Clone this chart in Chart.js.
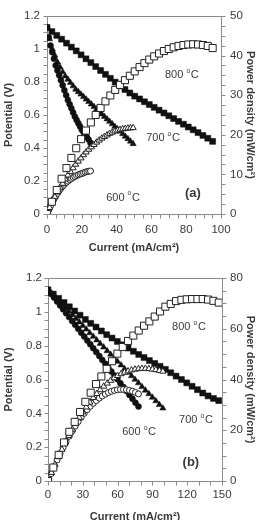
<!DOCTYPE html>
<html>
<head>
<meta charset="utf-8">
<script src="https://cdn.jsdelivr.net/npm/chart.js@4"></script>
<style>
html, body { margin: 0; padding: 0; background: #fff; overflow: hidden; }
.panel { position: absolute; left: 0; width: 261px; height: 260px; overflow: hidden; }
</style>
</head>
<body>
<div class="panel" style="top:0"><canvas id="chartA" width="261" height="260"></canvas></div>
<div class="panel" style="top:260px"><canvas id="chartB" width="261" height="272"></canvas></div>
<script>
// panel (a)
const currentA600 = [0, 1, 2, 3, 4, 5, 6, 7, 8, 9, 10, 11, 12, 13, 14, 15, 16, 17, 18, 19, 20, 21, 22, 23, 24, 25];
const voltageA600 = [1.13, 1.07, 1.02, 0.98, 0.94, 0.90, 0.87, 0.84, 0.81, 0.78, 0.75, 0.72, 0.69, 0.665, 0.64, 0.615, 0.59, 0.57, 0.55, 0.53, 0.51, 0.495, 0.48, 0.465, 0.45, 0.43];
const powerA600 = [0, 1.07, 2.04, 2.94, 3.76, 4.50, 5.22, 5.88, 6.48, 7.02, 7.50, 7.92, 8.28, 8.65, 8.96, 9.23, 9.44, 9.69, 9.90, 10.07, 10.20, 10.40, 10.56, 10.70, 10.80, 10.85];

const currentA700 = [0, 1.5, 3, 4.5, 6, 7.5, 9, 10.5, 12, 13.5, 15, 16.5, 18, 19.5, 21, 22.5, 24, 25.5, 27, 28.5, 30, 31.5, 33, 34.5, 36, 37.5, 39, 40.5, 42, 43.5, 45, 46.5, 48, 49.5];
const voltageA700 = [1.13, 1.06, 1.00, 0.96, 0.92, 0.89, 0.86, 0.835, 0.815, 0.795, 0.775, 0.755, 0.74, 0.725, 0.71, 0.695, 0.68, 0.665, 0.65, 0.635, 0.62, 0.605, 0.59, 0.575, 0.56, 0.545, 0.53, 0.515, 0.50, 0.485, 0.47, 0.455, 0.44, 0.425];
const powerA700 = [0, 1.6, 3.0, 4.3, 5.5, 6.7, 7.7, 8.8, 9.8, 10.7, 11.6, 12.5, 13.3, 14.1, 14.9, 15.6, 16.3, 16.9, 17.5, 18.1, 18.6, 19.1, 19.5, 19.9, 20.3, 20.6, 20.9, 21.1, 21.3, 21.45, 21.55, 21.65, 21.7, 21.75];

const currentA800 = [0, 2.8, 5.6, 8.4, 11.2, 14, 16.8, 19.6, 22.4, 25.2, 28, 30.8, 33.6, 36.4, 39.2, 42, 44.8, 47.6, 50.4, 53.2, 56, 58.8, 61.6, 64.4, 67.2, 70, 72.8, 75.6, 78.4, 81.2, 84, 86.8, 89.6, 92.4, 95.2];
const voltageA800 = [1.13, 1.105, 1.082, 1.059, 1.035, 1.011, 0.988, 0.964, 0.94, 0.917, 0.893, 0.869, 0.846, 0.822, 0.799, 0.776, 0.754, 0.733, 0.714, 0.697, 0.68, 0.663, 0.646, 0.629, 0.612, 0.595, 0.578, 0.561, 0.544, 0.527, 0.51, 0.493, 0.476, 0.459, 0.44];
const powerA800 = [0, 3.09, 6.06, 8.9, 11.59, 14.15, 16.6, 18.89, 21.06, 23.11, 25.0, 26.77, 28.43, 29.92, 31.32, 32.59, 33.78, 34.89, 35.99, 37.08, 38.08, 38.98, 39.79, 40.51, 41.13, 41.65, 42.08, 42.41, 42.65, 42.79, 42.84, 42.79, 42.65, 42.41, 41.89];

// panel (b)
const currentB600 = [0, 2.6, 5.2, 7.8, 10.4, 13, 15.6, 18.2, 20.8, 23.4, 26, 28.6, 31.2, 33.8, 36.4, 39, 41.6, 44.2, 46.8, 49.4, 52, 54.6, 57.2, 59.8, 62.4, 65, 67.6, 70.2, 72.8, 75.4, 78];
const voltageB600 = [1.13, 1.107, 1.084, 1.061, 1.038, 1.015, 0.992, 0.969, 0.946, 0.923, 0.9, 0.877, 0.854, 0.831, 0.808, 0.785, 0.762, 0.739, 0.716, 0.693, 0.67, 0.647, 0.624, 0.601, 0.578, 0.555, 0.532, 0.509, 0.486, 0.463, 0.44];
const powerB600 = [0, 2.88, 5.64, 8.28, 10.8, 13.2, 15.48, 17.64, 19.68, 21.6, 23.4, 25.08, 26.64, 28.09, 29.41, 30.62, 31.7, 32.66, 33.51, 34.23, 34.84, 35.33, 35.69, 35.94, 36.07, 36.08, 35.96, 35.73, 35.38, 34.91, 34.32];

const currentB700 = [0, 3, 6, 9, 12, 15, 18, 21, 24, 27, 30, 33, 36, 39, 42, 45, 48, 51, 54, 57, 60, 63, 66, 69, 72, 75, 78, 81, 84, 87, 90, 93, 96, 99];
const voltageB700 = [1.13, 1.109, 1.088, 1.066, 1.045, 1.024, 1.003, 0.982, 0.96, 0.939, 0.918, 0.897, 0.875, 0.854, 0.833, 0.812, 0.791, 0.769, 0.748, 0.727, 0.706, 0.685, 0.663, 0.642, 0.621, 0.6, 0.579, 0.557, 0.536, 0.515, 0.494, 0.473, 0.451, 0.43];
const powerB700 = [0, 3.3, 6.5, 9.5, 12.4, 15.2, 17.8, 20.3, 22.7, 25.0, 27.1, 29.1, 31.0, 32.8, 34.4, 35.9, 37.3, 38.5, 39.6, 40.6, 41.5, 42.2, 42.8, 43.3, 43.7, 44.0, 44.2, 44.3, 44.3, 44.2, 44.0, 43.8, 43.5, 43.2];

const currentB800 = [0, 4.6, 9.2, 13.8, 18.4, 23, 27.6, 32.2, 36.8, 41.4, 46, 50.6, 55.2, 59.8, 64.4, 69, 73.6, 78.2, 82.8, 87.4, 92, 96.6, 101.2, 105.8, 110.4, 115, 119.6, 124.2, 128.8, 133.4, 138, 142.6, 147.2];
const voltageB800 = [1.13, 1.105, 1.08, 1.055, 1.03, 1.005, 0.98, 0.955, 0.932, 0.91, 0.887, 0.865, 0.845, 0.825, 0.805, 0.786, 0.767, 0.748, 0.73, 0.712, 0.695, 0.678, 0.66, 0.64, 0.62, 0.6, 0.58, 0.56, 0.54, 0.52, 0.503, 0.488, 0.475];
const powerB800 = [0, 5.3, 10.3, 15.2, 19.4, 23.3, 27.2, 31.2, 34.8, 38.2, 41.2, 44.2, 47.2, 50.2, 52.8, 55.2, 57.3, 59.3, 61.2, 62.9, 64.8, 66.8, 68.7, 69.8, 70.9, 71.4, 71.6, 71.7, 71.7, 71.7, 71.5, 71.0, 70.3];

const FAMILY = "'Liberation Sans', Arial, sans-serif";
const INK = '#3a3a3a';

function pts(xs, ys) {
  return xs.map((x, i) => ({x: x, y: ys[i]}));
}

function series(xs, ys, axis, style, filled, radius) {
  return {
    data: pts(xs, ys),
    yAxisID: axis,
    showLine: false,
    pointStyle: style,
    pointRadius: radius,
    pointBackgroundColor: filled ? '#111' : '#fff',
    pointBorderColor: filled ? '#111' : '#222',
    pointBorderWidth: filled ? 0.5 : 1
  };
}

// plain numbers: 1 instead of 1.0
function plain(v) {
  return String(Math.round(v * 100) / 100);
}

function tempLabel(ctx, x, y, num) {
  ctx.fillStyle = INK;
  ctx.textAlign = 'left';
  ctx.textBaseline = 'middle';
  ctx.font = '11px ' + FAMILY;
  const t = num + ' ';
  ctx.fillText(t, x, y);
  let w = ctx.measureText(t).width;
  ctx.font = '7px ' + FAMILY;
  ctx.fillText('o', x + w, y - 4);
  w += ctx.measureText('o').width + 0.5;
  ctx.font = '11px ' + FAMILY;
  ctx.fillText('C', x + w, y);
}

const decorPlugin = {
  id: 'panelDecor',
  beforeDatasetsDraw(chart, args, o) {
    const {ctx, chartArea: a, scales} = chart;
    const L = Math.round(a.left) + 0.5, R = Math.round(a.right) + 0.5;
    const T = Math.round(a.top) + 0.5, B = Math.round(a.bottom) + 0.5;
    ctx.save();
    ctx.strokeStyle = '#8c8c8c';
    ctx.lineWidth = 1;
    ctx.strokeRect(L, T, R - L, B - T);
    ctx.beginPath();
    for (let v = 0; v <= 1.2 + 1e-9; v += 0.05) {
      const y = Math.round(scales.y.getPixelForValue(v)) + 0.5;
      ctx.moveTo(L - 4, y); ctx.lineTo(L, y);
    }
    for (let v = 0; v <= o.pMax + 1e-9; v += o.pMinor) {
      const y = Math.round(scales.y1.getPixelForValue(v)) + 0.5;
      ctx.moveTo(R, y); ctx.lineTo(R + 4, y);
    }
    for (let v = 0; v <= o.xMax + 1e-9; v += o.xMinor) {
      const x = Math.round(scales.x.getPixelForValue(v)) + 0.5;
      ctx.moveTo(x, B); ctx.lineTo(x, B + 4);
    }
    ctx.stroke();
    ctx.restore();
  },
  afterDatasetsDraw(chart, args, o) {
    const {ctx, scales} = chart;
    ctx.save();
    o.temps.forEach(t => {
      tempLabel(ctx, scales.x.getPixelForValue(t.x), scales.y.getPixelForValue(t.y), t.text);
    });
    ctx.fillStyle = INK;
    ctx.font = 'bold 13px ' + FAMILY;
    ctx.textAlign = 'left';
    ctx.textBaseline = 'middle';
    ctx.fillText(o.tag.text, scales.x.getPixelForValue(o.tag.x), scales.y.getPixelForValue(o.tag.y));
    ctx.restore();
  }
};

function makeChart(id, p) {
  const tickFont = {family: FAMILY, size: 11.5};
  const titleFont = {family: FAMILY, size: 11, weight: 'bold'};
  return new Chart(document.getElementById(id), {
    type: 'scatter',
    data: {datasets: p.datasets},
    options: {
      responsive: false,
      animation: false,
      events: [],
      layout: {padding: {top: p.top, left: 0, right: 0, bottom: 0}},
      plugins: {
        legend: {display: false},
        tooltip: {enabled: false},
        panelDecor: p.decor
      },
      scales: {
        x: {
          type: 'linear', min: 0, max: p.xMax,
          grid: {display: false, drawTicks: false}, border: {display: false},
          ticks: {stepSize: p.xStep, padding: p.xPad, color: INK, font: tickFont, maxRotation: 0, callback: plain},
          title: {display: true, text: 'Current (mA/cm²)', color: INK, font: titleFont, padding: {top: 0, bottom: p.xTitlePad}},
          afterFit(s) { s.height = p.xHeight; }
        },
        y: {
          type: 'linear', position: 'left', min: 0, max: 1.2,
          grid: {display: false, drawTicks: false}, border: {display: false},
          ticks: {stepSize: 0.2, padding: p.yPad, color: INK, font: tickFont, callback: plain},
          title: {display: true, text: 'Potential (V)', color: INK, font: titleFont, padding: {top: 2.4, bottom: 0}},
          afterFit(s) { s.width = p.left; }
        },
        y1: {
          type: 'linear', position: 'right', min: 0, max: p.pMax,
          grid: {display: false, drawTicks: false}, border: {display: false},
          ticks: {stepSize: p.pStep, padding: p.y1Pad, color: INK, font: tickFont, callback: plain},
          title: {display: true, text: 'Power density (mW/cm²)', color: INK, font: titleFont, padding: {top: 4.4, bottom: 0}},
          afterFit(s) { s.width = p.right; }
        }
      }
    },
    plugins: [decorPlugin]
  });
}

makeChart('chartA', {
  top: 13, left: 47, right: 40, xHeight: 46,
  xMax: 100, xStep: 20, pMax: 50, pStep: 10,
  xPad: 9, yPad: 7, y1Pad: 9, xTitlePad: 5.4,
  decor: {
    pMax: 50, pMinor: 2.5, xMax: 100, xMinor: 5,
    temps: [{x: 67.8, y: 0.84, text: '800'}, {x: 57, y: 0.46, text: '700'}, {x: 34, y: 0.10, text: '600'}],
    tag: {x: 79.3, y: 0.125, text: '(a)'}
  },
  datasets: [
    series(currentA800, powerA800, 'y1', 'rect', false, 5),
    series(currentA700, powerA700, 'y1', 'triangle', false, 3.6),
    series(currentA600, powerA600, 'y1', 'circle', false, 3),
    series(currentA800, voltageA800, 'y', 'rect', true, 4.2),
    series(currentA700, voltageA700, 'y', 'triangle', true, 3.6),
    series(currentA600, voltageA600, 'y', 'circle', true, 3)
  ]
});

makeChart('chartB', {
  top: 18, left: 48, right: 39, xHeight: 51,
  xMax: 150, xStep: 30, pMax: 80, pStep: 20,
  xPad: 7, yPad: 6, y1Pad: 8, xTitlePad: 8.4,
  decor: {
    pMax: 80, pMinor: 5, xMax: 150, xMinor: 10,
    temps: [{x: 107, y: 0.91, text: '800'}, {x: 113, y: 0.36, text: '700'}, {x: 64, y: 0.29, text: '600'}],
    tag: {x: 116, y: 0.11, text: '(b)'}
  },
  datasets: [
    series(currentB800, powerB800, 'y1', 'rect', false, 5),
    series(currentB700, powerB700, 'y1', 'triangle', false, 3.6),
    series(currentB600, powerB600, 'y1', 'circle', false, 3),
    series(currentB800, voltageB800, 'y', 'rect', true, 4.2),
    series(currentB700, voltageB700, 'y', 'triangle', true, 3.6),
    series(currentB600, voltageB600, 'y', 'circle', true, 3)
  ]
});
</script>
</body>
</html>
